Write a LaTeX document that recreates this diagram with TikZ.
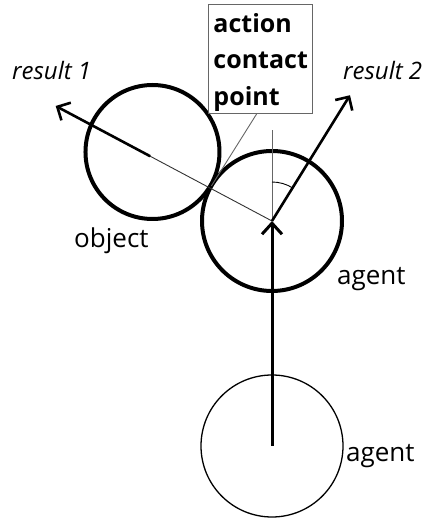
\documentclass[tikz,border=0pt]{standalone}
\usepackage{fontspec}
\setmainfont{Open Sans}
\usetikzlibrary{arrows.meta,calc}
\begin{document}
\begin{tikzpicture}[x=1pt,y=1pt,
  thickcirc/.style={line width=4pt},
  thincirc/.style={line width=1.3pt},
  vec/.style={line width=2.6pt,-{Straight Barb[length=10pt,width=20pt]}},
  guide/.style={line width=0.9pt,black!60},
  lbl/.style={inner sep=0pt,font=\fontsize{26}{30}\selectfont},
  ilbl/.style={inner sep=0pt,font=\fontsize{24}{28}\selectfont\itshape}]
\useasboundingbox (0,0) rectangle (428,520);
% centres
\coordinate (A) at (272,299);
\coordinate (O) at ($(A)+(150:138)$);
\coordinate (B) at (272,74);
\coordinate (C) at ($(A)+(150:70)$);
% circles
\draw[thickcirc] (A) circle (70);
\draw[thickcirc] (O) circle (67);
\draw[thincirc] (B) circle (71);
% vertical reference line and angle
\coordinate (Vtop) at (272,390);
\draw[guide] (A) -- (Vtop);
\coordinate (R2) at ($(A)+(58.2:148)$);
\draw[line width=0.9pt] ($(A)+(90:39)$) arc[start angle=90,end angle=58.2,radius=39];
% result 1 line
\coordinate (P) at ($(A)+(152:138)$);
\coordinate (R1) at ($(A)+(152:245)$);
\draw[line width=0.9pt,black!80] (A) -- (P);
\draw[vec] (P) -- (R1);
% result 2
\draw[vec] (A) -- (R2);
% agent motion
\draw[line width=3pt,-{Straight Barb[length=11pt,width=20pt]}] (B) -- (A);
% label box
\node[draw=black!60,line width=0.9pt,anchor=north west,inner xsep=5pt,inner ysep=2pt,align=left,
  font=\fontsize{25}{36.5}\selectfont\bfseries] (box) at (208,516)
  {\rule{0pt}{26pt}action\\contact\\point};
\draw[guide] ([xshift=-4pt]box.south) -- (C);
% labels
\node[lbl,anchor=base west] (objl) at (74,272) {object};
\node[lbl,anchor=base west] (ag1) at (337,235) {agent};
\node[lbl,anchor=base west] (ag2) at (346,58) {agent};
\node[ilbl,anchor=base west] (r1l) at (12,440) {result 1};
\node[ilbl,anchor=base west] (r2l) at (343,440) {result 2};
\end{tikzpicture}
\end{document}
